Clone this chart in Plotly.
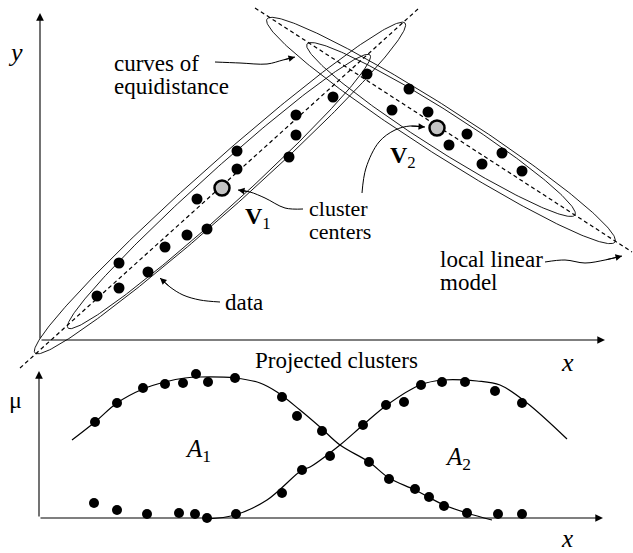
import numpy as np
import plotly.graph_objects as go

W, H = 633, 553
FONT = "Liberation Serif"

# ---------------- top panel: data points (pixel-like coordinates, y downward) -------------
cluster1_x = [97, 119, 119, 148, 165, 187, 207, 197, 237, 237, 289, 296, 296, 333]
cluster1_y = [296, 288, 263, 272, 247, 235, 229, 199, 169, 151, 157, 135, 115, 97]
cluster2_x = [367, 409, 392, 428, 467, 449, 502, 482, 522]
cluster2_y = [74, 89, 110, 112, 134, 145, 153, 164, 171]
centers_x = [222, 437]
centers_y = [188, 128]

# local linear models (dashed lines): start and end points
model1_x = [20, 418]
model1_y = [368, 9]
model2_x = [255, 632]
model2_y = [8, 252]

# curves of equidistance: tips of outer / inner ellipses and half-widths
ell1_outer_tips = [(35, 353), (405, 23)]
ell1_inner_tips = [(68, 328), (370, 55)]
ell2_outer_tips = [(267, 19), (615, 242)]
ell2_inner_tips = [(307, 44), (575, 215)]
ell_outer_halfwidth = 23
ell_inner_halfwidth = 19

# axes
top_origin = (40, 340)
top_y_tip = (40, 13)
top_x_tip = (605, 340)
bot_origin = (39, 518)
bot_y_tip = (39, 371)
bot_x_tip = (603, 518)

# ---------------- bottom panel: projected clusters -------------
a1_dots_x = [95, 117, 143, 165, 183, 196, 208, 235, 282, 297, 322, 369, 389, 415, 429, 444, 467, 498, 522]
a1_dots_y = [422, 403, 388, 384, 383, 374, 382, 378, 397, 416, 431, 462, 479, 489, 497, 506, 513, 514, 514]
a2_dots_x = [94, 117, 147, 179, 195, 207, 236, 282, 302, 330, 363, 386, 404, 421, 442, 465, 495, 522]
a2_dots_y = [503, 510, 514, 513, 514, 518, 514, 493, 470, 456, 425, 405, 402, 385, 382, 382, 391, 403]

a1_curve_x = [72, 95, 117, 143, 165, 185, 200, 235, 260, 277, 300, 320, 340, 369, 389, 415, 444, 467, 492]
a1_curve_y = [440, 422, 403, 389, 382, 378, 377, 378, 383, 392, 410, 427, 445, 462, 478, 490, 505, 513, 520]
a2_curve_x = [207, 235, 267, 302, 310, 340, 363, 387, 420, 443, 477, 500, 527, 567]
a2_curve_y = [519, 515, 500, 470, 467, 445, 425, 405, 385, 380, 381, 385, 403, 439]

# pointer arrows (label leaders)
arrow_curves_x = [215, 240, 267, 283, 295]
arrow_curves_y = [62, 63, 64, 60, 57]
arrow_centers_x = [303, 285, 265, 250, 238]
arrow_centers_y = [209, 208, 198, 192, 190]
arrow_v2_x = [362, 366, 379, 395, 410, 425]
arrow_v2_y = [193, 168, 142, 130, 126, 127]
arrow_data_x = [220, 200, 183, 170, 160]
arrow_data_y = [302, 300, 295, 287, 278]
arrow_model_x = [545, 565, 585, 605, 622]
arrow_model_y = [262, 260, 263, 260, 256]


def ellipse(tips, b, n=300):
    (x1, y1), (x2, y2) = tips
    cx, cy = (x1 + x2) / 2, (y1 + y2) / 2
    a = np.hypot(x2 - x1, y2 - y1) / 2
    ang = np.arctan2(y2 - y1, x2 - x1)
    t = np.linspace(0, 2 * np.pi, n)
    ex = a * np.cos(t)
    ey = b * np.sin(t)
    return (cx + ex * np.cos(ang) - ey * np.sin(ang),
            cy + ex * np.sin(ang) + ey * np.cos(ang))


fig = go.Figure()

thin = dict(color="black", width=0.9)

# ellipses
for tips, b in [(ell1_outer_tips, ell_outer_halfwidth), (ell1_inner_tips, ell_inner_halfwidth),
                (ell2_outer_tips, ell_outer_halfwidth), (ell2_inner_tips, ell_inner_halfwidth)]:
    ex, ey = ellipse(tips, b)
    fig.add_trace(go.Scatter(x=ex, y=ey, mode="lines", line=thin, hoverinfo="skip"))

# dashed local linear models
for mx, my in [(model1_x, model1_y), (model2_x, model2_y)]:
    fig.add_trace(go.Scatter(x=mx, y=my, mode="lines",
                             line=dict(color="black", width=1.2, dash="4px,3px"), hoverinfo="skip"))

# data dots
fig.add_trace(go.Scatter(x=cluster1_x + cluster2_x, y=cluster1_y + cluster2_y, mode="markers",
                         marker=dict(color="black", size=11, line=dict(width=0))))
# cluster centers
fig.add_trace(go.Scatter(x=centers_x, y=centers_y, mode="markers",
                         marker=dict(color="#c4c4c4", size=15, line=dict(color="black", width=2.5))))

# bottom curves
for cx, cy in [(a1_curve_x, a1_curve_y), (a2_curve_x, a2_curve_y)]:
    fig.add_trace(go.Scatter(x=cx, y=cy, mode="lines", line=dict(color="black", width=1.2, shape="spline"),
                             hoverinfo="skip"))
fig.add_trace(go.Scatter(x=a1_dots_x + a2_dots_x, y=a1_dots_y + a2_dots_y, mode="markers",
                         marker=dict(color="black", size=10, line=dict(width=0))))

# leader curves
for ax_, ay_ in [(arrow_curves_x, arrow_curves_y), (arrow_centers_x, arrow_centers_y),
                 (arrow_v2_x, arrow_v2_y), (arrow_data_x, arrow_data_y), (arrow_model_x, arrow_model_y)]:
    fig.add_trace(go.Scatter(x=ax_, y=ay_, mode="lines", line=dict(color="black", width=1, shape="spline"),
                             hoverinfo="skip"))
    fig.add_annotation(x=ax_[-1], y=ay_[-1], ax=ax_[-2], ay=ay_[-2], xref="x", yref="y",
                       axref="x", ayref="y", text="", showarrow=True, arrowhead=2, arrowsize=1.3,
                       arrowwidth=1, arrowcolor="black", standoff=0)

# axes with arrows
for (ox, oy), (tx, ty) in [(top_origin, top_y_tip), (top_origin, top_x_tip),
                           (bot_origin, bot_y_tip), (bot_origin, bot_x_tip)]:
    fig.add_annotation(x=tx, y=ty, ax=ox, ay=oy, xref="x", yref="y", axref="x", ayref="y",
                       text="", showarrow=True, arrowhead=2, arrowsize=1.4, arrowwidth=1.1,
                       arrowcolor="black", standoff=0)


def label(x, y, text, size=23, xanchor="center"):
    fig.add_annotation(x=x, y=y, text=text, showarrow=False, xref="x", yref="y",
                       xanchor=xanchor, yanchor="middle",
                       font=dict(family=FONT, size=size, color="black"))


label(15, 52, "<i>y</i>", 26)
label(567, 362, "<i>x</i>", 26)
label(567, 538, "<i>x</i>", 25)
label(15, 400, "μ", 24)
label(112, 63, "curves of", 23, "left")
label(112, 86, "equidistance", 23, "left")
label(307, 208, "cluster", 22, "left")
label(307, 231, "centers", 22, "left")
label(223, 302, "data", 23, "left")
label(438, 259, "local linear", 23, "left")
label(438, 282, "model", 23, "left")
label(258, 218, "<b>V</b><sub>1</sub>", 24)
label(403, 157, "<b>V</b><sub>2</sub>", 24)
label(336, 360, "Projected clusters", 23)
label(198, 450, "<i>A</i><sub>1</sub>", 25)
label(458, 458, "<i>A</i><sub>2</sub>", 25)

fig.update_layout(
    width=W, height=H, margin=dict(l=0, r=0, t=0, b=0),
    paper_bgcolor="white", plot_bgcolor="white", showlegend=False,
    xaxis=dict(range=[0, W], visible=False, fixedrange=True),
    yaxis=dict(range=[H, 0], visible=False, fixedrange=True),
)

fig.write_html("out.html", config={"displayModeBar": False, "staticPlot": True},
               post_script="document.body.style.margin='0px';document.body.style.overflow='hidden';")
